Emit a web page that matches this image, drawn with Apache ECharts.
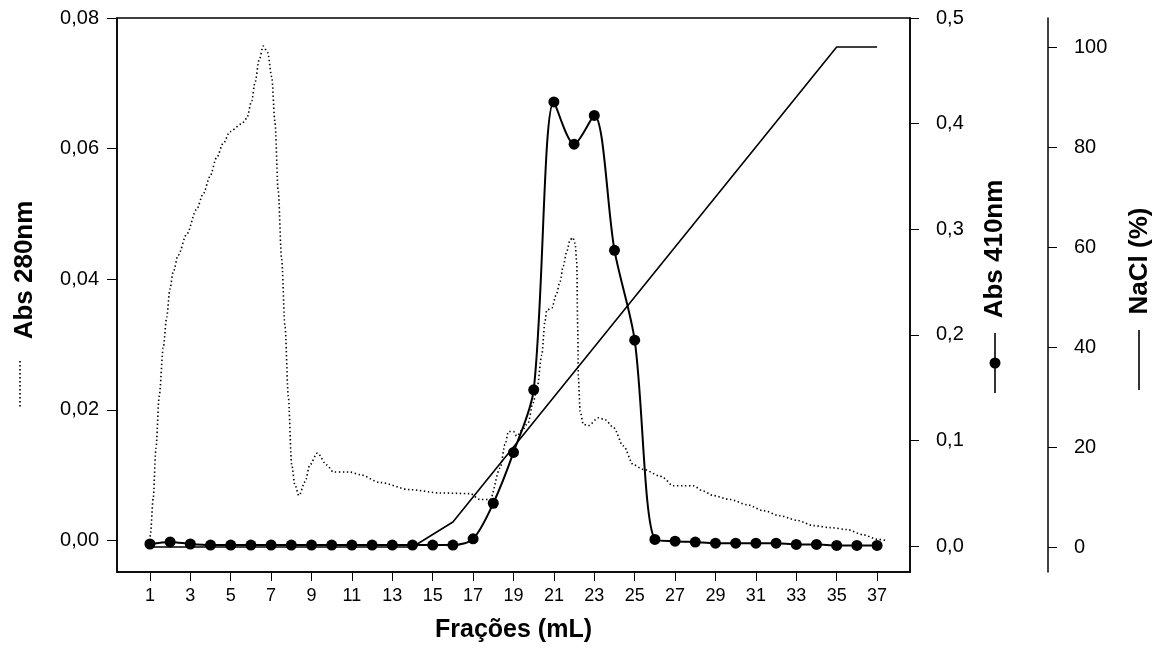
<!DOCTYPE html>
<html>
<head>
<meta charset="utf-8">
<script src="https://cdn.jsdelivr.net/npm/echarts@6/dist/echarts.min.js"></script>
<style>
  html, body { margin: 0; padding: 0; background: #fff; }
  #chart { width: 1165px; height: 648px; }
</style>
</head>
<body>
<div id="chart"></div>
<script>
// ---- Data ----
const fractions = [1,2,3,4,5,6,7,8,9,10,11,12,13,14,15,16,17,18,19,20,21,22,23,24,25,26,27,28,29,30,31,32,33,34,35,36,37];
const abs410 = [0.002,0.004,0.002,0.001,0.001,0.001,0.001,0.001,0.001,0.001,0.001,0.001,0.001,0.001,0.001,0.001,
  0.0069,0.0406,0.0887,0.148,0.4205,0.3805,0.4078,0.280,0.195,
  0.0063,0.0047,0.0038,0.0028,0.0028,0.0028,0.0028,0.0016,0.0016,0.0007,0.0007,0.0007];

const abs280Fractions = [1.0,1.03,1.16,1.30,1.46,1.66,1.83,1.99,2.15,2.40,2.82,3.31,3.64,3.97,4.30,4.63,4.96,5.54,5.79,6.04,6.20,6.41,6.61,6.83,7.03,7.19,7.35,7.52,7.69,7.85,8.02,8.18,8.38,8.68,8.92,9.29,9.75,10.08,10.66,10.9,11.4,12.39,13.88,15.36,16.85,17.34,17.84,18.34,18.58,18.75,19.0,19.16,19.42,19.72,19.97,20.17,20.40,20.56,20.65,20.90,21.11,21.31,21.46,21.64,21.80,21.93,22.05,22.13,22.18,22.21,22.30,22.46,22.71,23.20,23.54,23.95,24.44,24.94,25.43,26.26,26.41,26.90,27.40,27.89,28.39,28.88,29.73,30.57,31.36,32.20,33.05,33.84,34.68,35.52,36.31,37.01,37.5];
const abs280 = [0.0,0.0012,0.0064,0.0142,0.0221,0.0295,0.0342,0.0385,0.0411,0.0437,0.0469,0.0507,0.0531,0.0557,0.0586,0.0608,0.0626,0.0638,0.0646,0.0673,0.0701,0.0736,0.0757,0.0747,0.0710,0.0641,0.0536,0.0431,0.0327,0.0221,0.0116,0.0085,0.0069,0.0090,0.0116,0.0134,0.0116,0.0105,0.0105,0.0105,0.0101,0.0089,0.0078,0.0073,0.0072,0.0063,0.0063,0.0111,0.0147,0.0167,0.0167,0.0160,0.0169,0.0180,0.0211,0.0234,0.0284,0.0336,0.0353,0.0356,0.0376,0.0397,0.0420,0.0443,0.0460,0.0464,0.0455,0.0427,0.0325,0.0249,0.0198,0.0178,0.0176,0.0188,0.0185,0.0173,0.0145,0.0116,0.0109,0.0099,0.0096,0.0084,0.0084,0.0084,0.0076,0.0069,0.0063,0.0055,0.0046,0.0038,0.0031,0.0023,0.0020,0.0017,0.0009,0.0002,0.0];

const naclFractions = [1, 14, 16, 35, 37];
const nacl = [0, 0, 5, 100, 100];

const xTicks = [1,3,5,7,9,11,13,15,17,19,21,23,25,27,29,31,33,35,37];
const leftTicks = [0, 0.02, 0.04, 0.06, 0.08];
const rightTicks = [0, 0.1, 0.2, 0.3, 0.4, 0.5];
const naclTicks = [0, 20, 40, 60, 80, 100];

const xTitle = 'Frações (mL)';
const leftTitle = 'Abs 280nm';
const rightTitle = 'Abs 410nm';
const naclTitle = 'NaCl (%)';

// ---- Chart ----
const FONT = "'Liberation Sans', Arial, sans-serif";
const zip = (xs, ys) => xs.map((x, i) => [x, ys[i]]);
const chart = echarts.init(document.getElementById('chart'), null, { renderer: 'canvas' });

const axisLineStyle = { show: true, onZero: false, lineStyle: { color: '#000', width: 1.5 } };
const tickLine = { color: '#000', width: 1 };
const labelBase = { color: '#000', fontFamily: FONT, fontSize: 20 };

const option = {
  animation: false,
  backgroundColor: '#fff',
  grid: { left: 117, right: 255, top: 18, bottom: 73, show: true, borderColor: '#000', borderWidth: 1.5, backgroundColor: 'transparent' },
  xAxis: {
    type: 'value', min: -0.63, max: 38.63,
    axisLine: axisLineStyle,
    axisTick: { show: true, inside: false, length: 9, lineStyle: tickLine, customValues: xTicks },
    axisLabel: { color: '#000', fontFamily: FONT, fontSize: 18, margin: 15, customValues: xTicks },
    splitLine: { show: false },
    name: xTitle, nameLocation: 'middle', nameGap: 46,
    nameTextStyle: { color: '#000', fontFamily: FONT, fontWeight: 'bold', fontSize: 25 }
  },
  yAxis: [
    {
      type: 'value', min: -0.0048, max: 0.08, position: 'left',
      axisLine: axisLineStyle,
      axisTick: { show: true, inside: false, length: 10, lineStyle: tickLine, customValues: leftTicks },
      axisLabel: Object.assign({}, labelBase, { margin: 18, customValues: leftTicks, formatter: v => v.toFixed(2).replace('.', ',') }),
      splitLine: { show: false }
    },
    {
      type: 'value', min: -0.0245, max: 0.5, position: 'right',
      axisLine: axisLineStyle,
      axisTick: { show: true, inside: false, length: 9, lineStyle: tickLine, customValues: rightTicks },
      axisLabel: Object.assign({}, labelBase, { margin: 26, customValues: rightTicks, formatter: v => v.toFixed(1).replace('.', ',') }),
      splitLine: { show: false }
    },
    {
      type: 'value', min: -5, max: 105.8, position: 'right', offset: 138,
      axisLine: axisLineStyle,
      axisTick: { show: true, inside: false, length: 9, lineStyle: tickLine, customValues: naclTicks },
      axisLabel: Object.assign({}, labelBase, { margin: 26, customValues: naclTicks }),
      splitLine: { show: false }
    }
  ],
  series: [
    {
      name: leftTitle, type: 'line', yAxisIndex: 0, z: 2,
      data: zip(abs280Fractions, abs280),
      showSymbol: false, smooth: 0.3, smoothMonotone: 'x',
      lineStyle: { color: '#000', width: 1.6, type: [1.4, 2.6], cap: 'butt' }
    },
    {
      name: naclTitle, type: 'line', yAxisIndex: 2, z: 3,
      data: zip(naclFractions, nacl),
      showSymbol: false,
      lineStyle: { color: '#000', width: 1.6 }
    },
    {
      name: rightTitle, type: 'line', yAxisIndex: 1, z: 4,
      data: zip(fractions, abs410),
      smooth: 0.3,
      symbol: 'circle', symbolSize: 11, showSymbol: true, showAllSymbol: true,
      itemStyle: { color: '#000', borderWidth: 0 },
      lineStyle: { color: '#000', width: 2 }
    }
  ],
  graphic: [
    { type: 'text', x: 25, y: 270, rotation: Math.PI / 2,
      style: { text: leftTitle, font: "bold 26px 'Liberation Sans', Arial, sans-serif", fill: '#000', align: 'center', verticalAlign: 'middle' } },
    { type: 'line', shape: { x1: 20, y1: 361, x2: 20, y2: 407 },
      style: { stroke: '#000', lineWidth: 1.6, lineDash: [1.4, 2.6] } },
    { type: 'text', x: 995, y: 249, rotation: Math.PI / 2,
      style: { text: rightTitle, font: "bold 26px 'Liberation Sans', Arial, sans-serif", fill: '#000', align: 'center', verticalAlign: 'middle' } },
    { type: 'line', shape: { x1: 995, y1: 333, x2: 995, y2: 393 },
      style: { stroke: '#000', lineWidth: 1.6 } },
    { type: 'circle', shape: { cx: 995, cy: 363, r: 5.5 }, style: { fill: '#000' } },
    { type: 'text', x: 1140, y: 261, rotation: Math.PI / 2,
      style: { text: naclTitle, font: "bold 26px 'Liberation Sans', Arial, sans-serif", fill: '#000', align: 'center', verticalAlign: 'middle' } },
    { type: 'line', shape: { x1: 1139, y1: 330, x2: 1139, y2: 390 },
      style: { stroke: '#000', lineWidth: 1.6 } }
  ]
};
chart.setOption(option);
</script>
</body>
</html>
